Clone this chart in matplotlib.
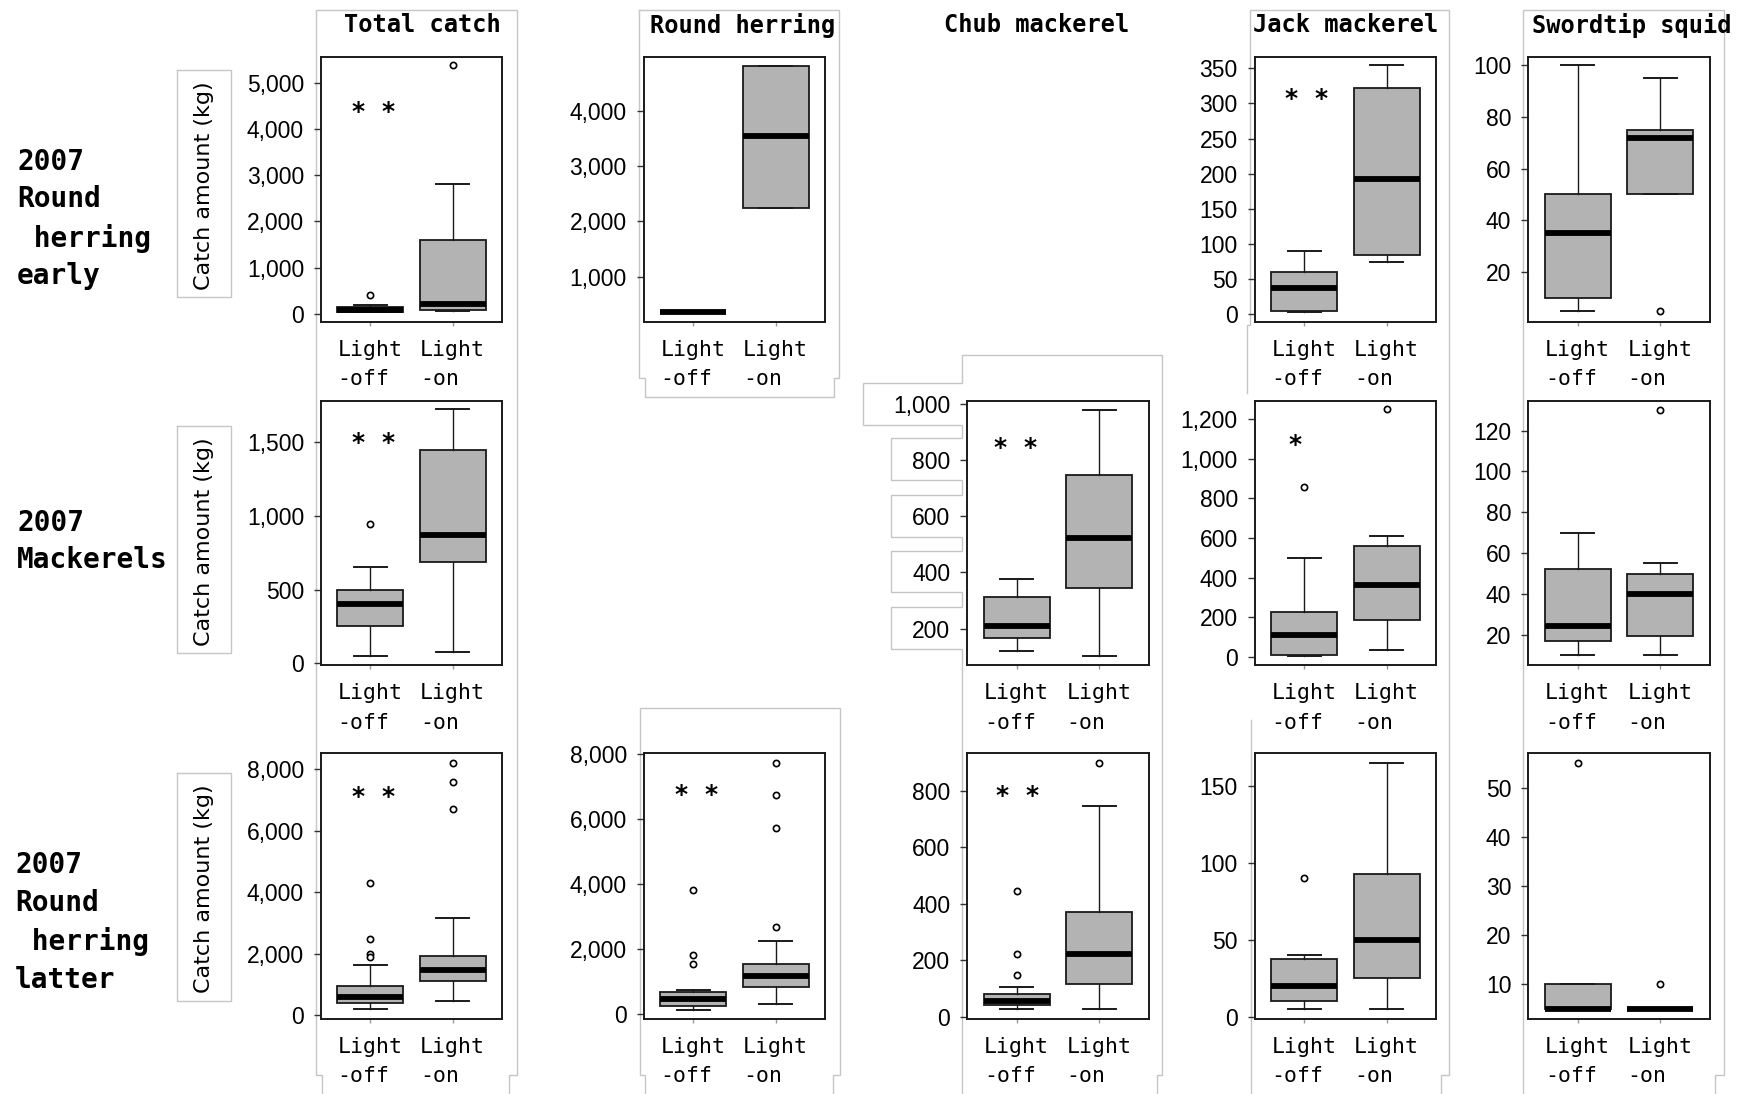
"""
Catch amount by light condition: boxplot grid (periods x species).
Saves: out.png
"""

import matplotlib
matplotlib.use("Agg")
import matplotlib.pyplot as plt

W, H = 1751, 1094

# ── Labels ────────────────────────────────────────────────────────────────────
GROUPS = ["Light\n-off", "Light\n-on"]
SPECIES = ["Total catch", "Round herring", "Chub mackerel", "Jack mackerel", "Swordtip squid"]
PERIODS = ["2007\nRound\n herring\nearly", "2007\nMackerels", "2007\nRound\n herring\nlatter"]
YLABEL = "Catch amount (kg)"

# ── Box statistics: (whisker low, q1, median, q3, whisker high) ───────────────
# order inside each list: Light-off, Light-on
TOTAL_EARLY = [(30, 40, 80, 150, 200), (56, 87, 217, 1590, 2805)]
TOTAL_EARLY_OUT = [[400], [5390]]
ROUND_EARLY = [(370, 370, 370, 370, 370), (2246, 2246, 3532, 4809, 4809)]
ROUND_EARLY_OUT = [[], []]
JACK_EARLY = [(3, 5, 38, 60, 90), (75, 84, 192, 322, 355)]
JACK_EARLY_OUT = [[], []]
SQUID_EARLY = [(5, 10, 35, 50, 100), (50, 50, 72, 75, 95)]
SQUID_EARLY_OUT = [[], [5]]

TOTAL_MACK = [(48, 250, 400, 495, 653), (75, 685, 869, 1450, 1724)]
TOTAL_MACK_OUT = [[948], []]
CHUB_MACK = [(120, 168, 211, 311, 375), (101, 345, 524, 747, 979)]
CHUB_MACK_OUT = [[], []]
JACK_MACK = [(3, 8, 113, 227, 497), (37, 189, 362, 560, 612)]
JACK_MACK_OUT = [[859], [1250]]
SQUID_MACK = [(10, 17, 24.5, 52, 70), (10, 19.5, 40, 50, 55)]
SQUID_MACK_OUT = [[], [130]]

TOTAL_LATE = [(195, 380, 600, 953, 1626), (466, 1106, 1463, 1929, 3144)]
TOTAL_LATE_OUT = [[4300, 2460, 2000, 1880], [8205, 7587, 6699]]
ROUND_LATE = [(132, 255, 470, 695, 747), (307, 829, 1177, 1545, 2262)]
ROUND_LATE_OUT = [[3819, 1831, 1554], [2692, 5714, 6738, 7730]]
CHUB_LATE = [(26, 41, 56, 80, 104), (27, 116, 222, 372, 747)]
CHUB_LATE_OUT = [[148, 222, 446], [899]]
JACK_LATE = [(5, 10, 20, 37.5, 40), (5, 25, 50, 92.6, 165)]
JACK_LATE_OUT = [[90], []]
SQUID_LATE = [(5, 5, 5, 10, 10), (5, 5, 5, 5, 5)]
SQUID_LATE_OUT = [[55], [10]]

# ── Panel layout (pixels in the 1751x1094 canvas) ─────────────────────────────
COL_LEFT = [320.7, 643.5, 967.0, 1254.5, 1528.0]
AX_W = 181.5
ROW_TOP = [56.7, 400.8, 753.3]
ROW_BOT = [321.6, 665.4, 1019.0]

# (row, col, stats, outliers, ylim, yticks, significance mark, mark position)
PANELS = [
    (0, 0, TOTAL_EARLY, TOTAL_EARLY_OUT, (-167, 5566), range(0, 5001, 1000), "* *", (1.04, 4540)),
    (0, 1, ROUND_EARLY, ROUND_EARLY_OUT, (191, 4971), range(1000, 4001, 1000), None, None),
    (0, 3, JACK_EARLY, JACK_EARLY_OUT, (-10.5, 366.5), range(0, 351, 50), "* *", (1.03, 317)),
    (0, 4, SQUID_EARLY, SQUID_EARLY_OUT, (0.8, 103.3), range(20, 101, 20), None, None),
    (1, 0, TOTAL_MACK, TOTAL_MACK_OUT, (-16, 1783), range(0, 1501, 500), "* *", (1.04, 1550)),
    (1, 2, CHUB_MACK, CHUB_MACK_OUT, (69, 1011), range(200, 1001, 200), "* *", (0.99, 871)),
    (1, 3, JACK_MACK, JACK_MACK_OUT, (-42, 1292), range(0, 1201, 200), "*", (0.89, 1109)),
    (1, 4, SQUID_MACK, SQUID_MACK_OUT, (5, 134.6), range(20, 121, 20), None, None),
    (2, 0, TOTAL_LATE, TOTAL_LATE_OUT, (-130, 8511), range(0, 8001, 2000), "* *", (1.04, 7339)),
    (2, 1, ROUND_LATE, ROUND_LATE_OUT, (-144, 8021), range(0, 8001, 2000), "* *", (1.04, 6974)),
    (2, 2, CHUB_LATE, CHUB_LATE_OUT, (-8, 932), range(0, 801, 200), "* *", (1.01, 806)),
    (2, 3, JACK_LATE, JACK_LATE_OUT, (-1.5, 171.3), range(0, 151, 50), None, None),
    (2, 4, SQUID_LATE, SQUID_LATE_OUT, (2.95, 57), range(10, 51, 10), None, None),
]

TITLE_LEFT = [344.4, 649.8, 944.4, 1253.0, 1532.0]
ROW_LABEL_POS = [(17, 219), (17, 541.5), (15, 922.3)]
YLABEL_BOXES = [(176.8, 70, 231.2, 296.7), (176.8, 425.7, 231.2, 652.7), (176.8, 773.3, 231.2, 1001)]

FRAME_COLOR = "#c6c6c6"
BOX_COLOR = "#b3b3b3"
MONO = "DejaVu Sans Mono"


def px_rect(left, top, right, bottom):
    return [left / W, 1 - bottom / H, (right - left) / W, (bottom - top) / H]


def draw_frames(ov):
    # gray outlines left over from the pasted panels
    lines = [
        # total catch column
        [(321.5, 1094), (321.5, 1075), (316, 1075), (316, 10), (516.6, 10),
         (516.6, 1075), (509, 1075), (509, 1094)],
        # round herring, top and bottom
        [(639, 10), (839, 10), (839, 378), (833.5, 378), (833.5, 396.5),
         (645, 396.5), (645, 378), (639, 378), (639, 10)],
        [(645, 1094), (645, 1075), (640, 1075), (640, 708), (840, 708),
         (840, 1075), (833.4, 1075), (833.4, 1094)],
        # chub mackerel with its tick-label tabs
        [(962, 1094), (962, 649.3), (890.7, 649.3), (890.7, 607.3), (962, 607.3),
         (962, 592.3), (890.7, 592.3), (890.7, 551), (962, 551), (962, 536.7),
         (890.7, 536.7), (890.7, 495.3), (962, 495.3), (962, 480), (890.7, 480),
         (890.7, 438.3), (962, 438.3), (962, 425), (863.3, 425), (863.3, 382.7),
         (962, 382.7), (962, 355), (1161.7, 355), (1161.7, 1075), (1156.8, 1075),
         (1156.8, 1094)],
        # jack mackerel
        [(1246.5, 393), (1246.5, 325), (1250, 325), (1250, 10), (1449, 10),
         (1449, 1075), (1440.7, 1075), (1440.7, 1094)],
        [(1251, 720), (1251, 1094)],
        # swordtip squid
        [(1523, 1094), (1523, 10), (1723.5, 10), (1723.5, 1075), (1714.7, 1075),
         (1714.7, 1094)],
    ]
    for pts in lines:
        xs, ys = zip(*pts)
        ov.plot(xs, ys, color=FRAME_COLOR, lw=1.0, solid_joinstyle="miter")

    for (x0, y0, x1, y1) in YLABEL_BOXES:
        ov.plot([x0, x1, x1, x0, x0], [y0, y0, y1, y1, y0], color=FRAME_COLOR, lw=1.0)
        ov.text((x0 + x1) / 2, (y0 + y1) / 2 + 2, YLABEL, rotation=90,
                ha="center", va="center", fontsize=16, color="black")


def draw_panel(fig, row, col, stats, outs, ylim, yticks, mark, mark_xy):
    ax = fig.add_axes(px_rect(COL_LEFT[col], ROW_TOP[row],
                              COL_LEFT[col] + AX_W, ROW_BOT[row]), zorder=2)
    bxp_stats = []
    for (lo, q1, med, q3, hi), fl in zip(stats, outs):
        bxp_stats.append(dict(whislo=lo, q1=q1, med=med, q3=q3, whishi=hi, fliers=fl))

    ax.bxp(bxp_stats, positions=[1, 2], widths=0.8, capwidths=0.4,
           patch_artist=True, showfliers=True, manage_ticks=False,
           boxprops=dict(facecolor=BOX_COLOR, edgecolor="#1a1a1a", linewidth=1.3),
           medianprops=dict(color="black", linewidth=4.2, solid_capstyle="butt"),
           whiskerprops=dict(color="#1a1a1a", linewidth=1.0),
           capprops=dict(color="#1a1a1a", linewidth=1.4),
           flierprops=dict(marker="o", markersize=4.5, markerfacecolor="white",
                           markeredgecolor="black", markeredgewidth=1.2))

    ax.set_xlim(0.4, 2.6)
    ax.set_ylim(*ylim)
    ax.set_xticks([1, 2])
    ax.set_xticklabels(GROUPS, fontfamily=MONO, fontsize=15.5,
                       linespacing=1.58, multialignment="left")
    ticks = list(yticks)
    ax.set_yticks(ticks)
    ax.set_yticklabels([f"{t:,}" for t in ticks], fontfamily="Liberation Sans")
    ax.tick_params(axis="y", length=5, width=1.0, pad=7, labelsize=16.5,
                   color="#333")
    ax.tick_params(axis="x", length=3, width=1.0, pad=10, color="#999")
    for sp in ax.spines.values():
        sp.set_linewidth(1.4)
        sp.set_color("#1a1a1a")

    if mark:
        ax.annotate(mark, xy=mark_xy, xytext=(0, -10.5), textcoords="offset points",
                    ha="center", va="baseline", fontsize=18, fontfamily=MONO,
                    fontweight="bold")
    return ax


def main():
    fig = plt.figure(figsize=(W / 100, H / 100), dpi=100)
    fig.patch.set_facecolor("white")

    ov = fig.add_axes([0, 0, 1, 1], zorder=0)
    ov.set_xlim(0, W)
    ov.set_ylim(H, 0)
    ov.axis("off")

    draw_frames(ov)

    for name, x in zip(SPECIES, TITLE_LEFT):
        ov.text(x, 25, name, ha="left", va="center", fontsize=17,
                fontfamily=MONO, fontweight="bold")

    for label, (x, y) in zip(PERIODS, ROW_LABEL_POS):
        ov.text(x, y, label, ha="left", va="center", multialignment="left",
                fontsize=20, fontfamily=MONO, fontweight="bold", linespacing=1.44)

    for panel in PANELS:
        draw_panel(fig, *panel)

    fig.savefig("out.png", dpi=100, facecolor="white")


if __name__ == "__main__":
    main()
